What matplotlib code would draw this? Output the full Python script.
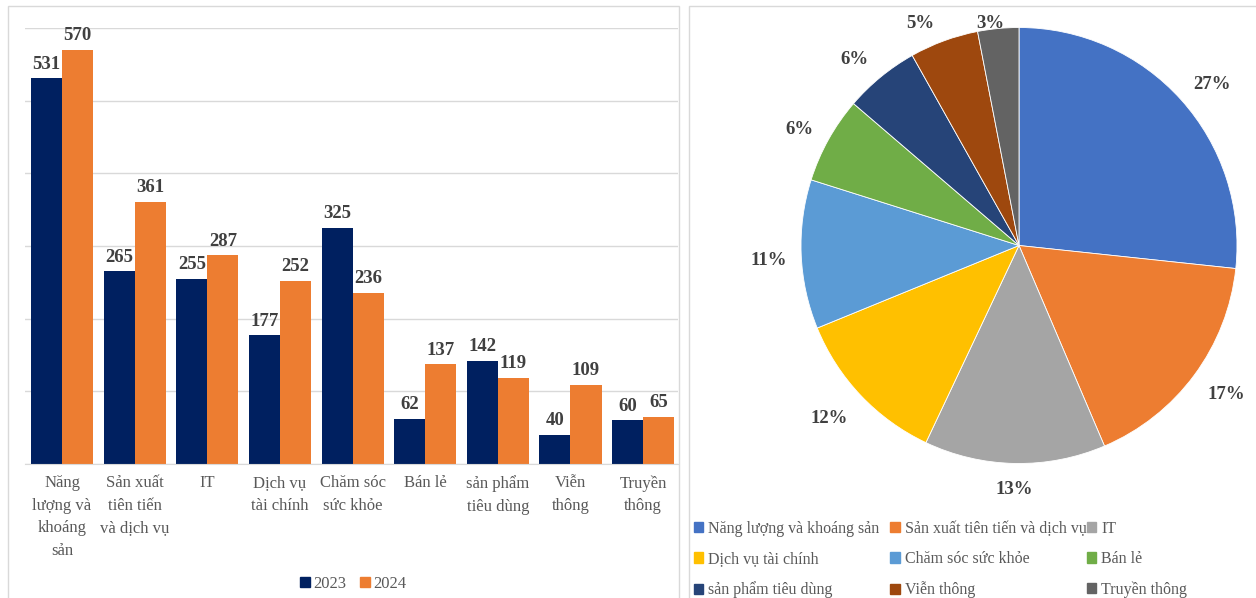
import matplotlib.pyplot as plt
import numpy as np
from matplotlib.patches import Patch, Rectangle

plt.rcParams['font.family'] = ['Liberation Serif', 'DejaVu Serif']

# Dữ liệu
categories = ['Năng\nlượng và\nkhoáng\nsản', 'Sản xuất\ntiên tiến\nvà dịch vụ', 'IT',
              'Dịch vụ\ntài chính', 'Chăm sóc\nsức khỏe', 'Bán lẻ',
              'sản phẩm\ntiêu dùng', 'Viễn\nthông', 'Truyền\nthông']
pie_names = ['Năng lượng và khoáng sản', 'Sản xuất tiên tiến và dịch vụ', 'IT',
             'Dịch vụ tài chính', 'Chăm sóc sức khỏe', 'Bán lẻ',
             'sản phẩm tiêu dùng', 'Viễn thông', 'Truyền thông']
v2023 = [531, 265, 255, 177, 325, 62, 142, 40, 60]
v2024 = [570, 361, 287, 252, 236, 137, 119, 109, 65]

bar_colors = ['#002060', '#ED7D31']
pie_colors = ['#4472C4', '#ED7D31', '#A5A5A5', '#FFC000', '#5B9BD5',
              '#70AD47', '#264478', '#9E480E', '#636363']

# vị trí nhãn % (khoảng cách theo bán kính, lệch góc theo độ)
label_dist = [1.157, 1.166, 1.113, 1.172, 1.148, 1.14, 1.143, 1.121, 1.034]
label_dang = [-1.9, 1.0, -0.1, -1.4, 0.6, 0.9, 1.9, 3.8, 1.9]

W, H = 1256, 598
fig = plt.figure(figsize=(W / 100, H / 100), dpi=100)

# khung hai panel
fig.patches.append(Rectangle((8 / W, -0.01), 671 / W, 1 - 6 / H + 0.01, transform=fig.transFigure,
                             fill=False, edgecolor='#D9D9D9', linewidth=1))
fig.patches.append(Rectangle((689 / W, -0.01), 580 / W, 1 - 6 / H + 0.01, transform=fig.transFigure,
                             fill=False, edgecolor='#D9D9D9', linewidth=1))

# ---- Biểu đồ cột ----
ax = fig.add_axes([25 / W, (H - 464) / H, 653 / W, 436 / H])
x = np.arange(len(categories))
w = 0.427
b1 = ax.bar(x - w / 2, v2023, w, color=bar_colors[0], label='2023')
b2 = ax.bar(x + w / 2, v2024, w, color=bar_colors[1], label='2024')
for bars in (b1, b2):
    ax.bar_label(bars, padding=4, fontsize=13.5, fontweight='bold', color='#404040')
ax.set_ylim(0, 600)
ax.set_xlim(-0.51, 8.48)
ax.set_yticks(range(0, 601, 100))
ax.set_yticklabels([])
ax.tick_params(axis='y', length=0)
ax.grid(axis='y', color='#D9D9D9', linewidth=1)
ax.set_axisbelow(True)
for s in ['top', 'right', 'left']:
    ax.spines[s].set_visible(False)
ax.spines['bottom'].set_color('#D9D9D9')
ax.set_xticks(x)
ax.set_xticklabels(categories, fontsize=12, color='#595959', va='top')
for lab in ax.get_xticklabels():
    lab.set_linespacing(1.55)
ax.tick_params(axis='x', length=0, pad=8)

fig.legend(handles=[Patch(color=bar_colors[0], label='2023'), Patch(color=bar_colors[1], label='2024')],
           loc='center', bbox_to_anchor=(353 / W, (H - 584) / H), ncol=2, frameon=False,
           fontsize=12, labelcolor='#595959', handlelength=0.6, handleheight=0.6,
           handletextpad=0.2, columnspacing=0.8)

# ---- Biểu đồ tròn ----
cx, cy, r = 1019, 245.5, 218
pax = fig.add_axes([(cx - r) / W, (H - cy - r) / H, 2 * r / W, 2 * r / H])
wedges, _ = pax.pie(v2024, colors=pie_colors, startangle=90, counterclock=False,
                    wedgeprops=dict(edgecolor='white', linewidth=0.6))
pax.set_xlim(-1, 1)
pax.set_ylim(-1, 1)

total = sum(v2024)
for wdg, v, d, da in zip(wedges, v2024, label_dist, label_dang):
    ang = np.deg2rad((wdg.theta1 + wdg.theta2) / 2 + da)
    pax.text(d * np.cos(ang), d * np.sin(ang) - 0.008, f'{v / total * 100:.0f}%',
             ha='center', va='center', fontsize=13.5, fontweight='bold', color='#404040')

# chú thích: 3 cột rộng bằng nhau, xếp theo hàng
for col in range(3):
    idx = [col, col + 3, col + 6]
    handles = [Patch(color=pie_colors[i], label=pie_names[i]) for i in idx]
    fig.legend(handles=handles, loc='upper left',
               bbox_to_anchor=((689 + 196.5 * col) / W, (H - 516) / H),
               frameon=False, fontsize=11.5, labelcolor='#595959', handlelength=0.6,
               handleheight=0.6, handletextpad=0.3, labelspacing=0.9,
               borderpad=0.3, borderaxespad=0)

fig.savefig('out.png', dpi=100)
